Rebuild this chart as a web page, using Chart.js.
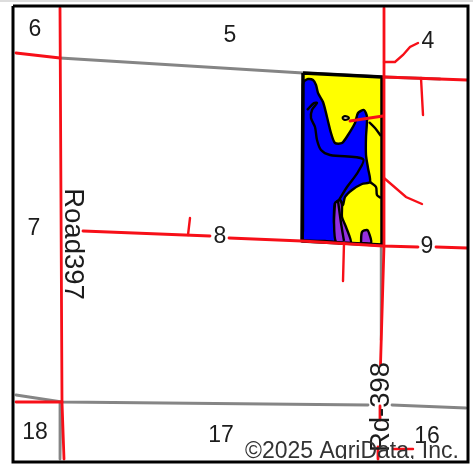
<!DOCTYPE html>
<html>
<head>
<meta charset="utf-8">
<title>Field map</title>
<script src="https://cdn.jsdelivr.net/npm/chart.js@4"></script>
<style>
html, body { margin: 0; padding: 0; background: #fff; }
canvas { display: block; }
</style>
</head>
<body>
<canvas id="map" width="473" height="466"></canvas>
<script>
// map geometry (x, y in image units)
var frame = [[13, 6], [468, 6], [468, 462], [13, 462]];
var topRule = [[0, 1], [473, 1]];

var grayRoadNorth = [[60, 58], [303, 73], [384, 77], [440, 79]];
var grayRoadSouth1 = [[16, 395], [62, 402], [368, 405]];
var grayRoadSouth2 = [[392, 405], [466, 408]];
var grayWestFoot = [[61, 402], [60, 459]];
var grayEastFoot = [[381.5, 246], [381, 340]];

var redWest = [[60, 8], [62, 402], [64, 459]];
var redNorthWest = [[16, 53], [60, 58]];
var redNorthEast = [[384, 77], [467, 80]];
var redSouthWest = [[16, 402], [62, 402]];
var redEast = [[384, 8], [384, 246], [380.5, 365]];
var redEastHyphen = [[380, 406], [380, 420]];
var redEastFoot = [[378, 447], [378, 459]];
var redMainWest = [[83, 231], [210, 236]];
var redMainMid = [[229, 238], [302, 241], [383, 246], [418, 247]];
var redMainEast = [[436, 247], [467, 248]];
var redTick8 = [[190, 218], [188, 235]];
var redTickSouth = [[344, 243], [343, 281]];
var redTickNE = [[421, 78], [423, 115]];
var redBranch4 = [[384, 62], [395, 62], [403, 55], [410, 47], [418, 43]];
var redBranchSE = [[384, 178], [406, 197], [422, 204]];
var redFieldStub = [[350, 121], [383, 116]];
var redFoot16 = [[393, 449], [413, 449]];

var fieldEdge = [[303, 73], [382, 77], [382, 245], [302, 241]];
var blueZone = [[304, 81], [308, 79], [313, 80], [316, 85], [318, 93], [323, 102], [327, 117], [331, 133], [335, 143],
    [342, 143], [348, 135], [355, 123], [358, 113], [364, 110], [367, 117], [366, 137], [366, 155], [368, 168], [370, 182],
    [362, 184], [352, 190], [345, 197], [343, 205], [340, 200], [335, 203], [334, 222], [336, 241], [325, 241], [310, 241], [303, 240],
    [303, 230], [303, 150], [303, 90], [303, 84]];
var purpleStrip = [[335, 203], [340, 200], [342, 205], [342, 217], [346, 227], [351, 243], [336, 242], [334, 222]];
var purpleNotch = [[361, 243], [362, 232], [367, 230], [369, 233], [371, 243]];
var pond = [[342, 118], [345, 116], [349, 118], [345, 120]];
var soilLine1 = [[307, 110], [314, 103], [317, 103], [312, 110], [311, 118], [315, 127], [317, 140], [321, 150], [330, 155], [363, 159], [358, 172], [347, 187], [339, 200]];
var soilLine2 = [[369, 122], [375, 128], [381, 136]];
var soilLine3 = [[370, 182], [376, 187], [377, 195], [381, 198]];
var soilLine4 = [[338, 201], [341, 223], [344, 241]];

var sectionLabels = ["6", "5", "4", "7", "8", "9", "18", "17", "16"];
var sectionX = [35, 230, 428, 34, 220, 427, 35, 221, 427];
var sectionY = [30, 36, 42, 229, 237, 247, 433, 436, 437];
var roadLabels = ["Road397", "Rd-398"];
var roadX = [73, 381];
var roadY = [244, 407];
var roadAngle = [90, -90];
var copyright = "©2025 AgriData, Inc.";

var RED = "#f70f18";
var GRAY = "#858585";

function pts(a) {
    return a.map(function (p) {
        return {x: p[0], y: p[1]};
    });
}
function road(a, color, w) {
    return {data: pts(a), showLine: true, fill: false, borderColor: color, borderWidth: w, pointRadius: 0, borderCapStyle: "round"};
}
function area(a, bg, line, w, tension) {
    // closed shape: repeat the first point so the outline comes back round
    return {data: pts(a.concat([a[0]])), showLine: true, fill: "shape", backgroundColor: bg, borderColor: line, borderWidth: w, pointRadius: 0, tension: tension, borderJoinStyle: "round"};
}
function curve(a) {
    return {data: pts(a), showLine: true, fill: false, borderColor: "#000", borderWidth: 2.4, pointRadius: 0, tension: 0.3};
}

// in paint order, reversed below because chart.js paints the first dataset last
var layers = [
    road(topRule, "#dddddd", 2),
    road(grayRoadNorth, GRAY, 2.8),
    road(grayRoadSouth1, GRAY, 2.8),
    road(grayRoadSouth2, GRAY, 2.8),
    road(grayWestFoot, GRAY, 2.8),
    road(grayEastFoot, GRAY, 2.4),
    area(fieldEdge, "#ffff00", "#000", 0, 0),
    area(blueZone, "#0000ff", "#000", 2.4, 0.25),
    area(purpleStrip, "#9430e0", "#000", 2.4, 0.2),
    area(purpleNotch, "#9430e0", "#000", 2.4, 0.3),
    curve(soilLine1),
    curve(soilLine2),
    curve(soilLine3),
    curve(soilLine4),
    area(pond, "#c8c8a0", "#000", 2, 0.4),
    area(fieldEdge, "rgba(0,0,0,0)", "#000", 3.5, 0),
    road(redWest, RED, 2.8),
    road(redNorthWest, RED, 2.8),
    road(redNorthEast, RED, 2.8),
    road(redSouthWest, RED, 2.8),
    road(redEast, RED, 2.8),
    road(redEastHyphen, RED, 2.8),
    road(redEastFoot, RED, 2.8),
    road(redMainWest, RED, 2.8),
    road(redMainMid, RED, 2.8),
    road(redMainEast, RED, 2.8),
    road(redTick8, RED, 2.4),
    road(redTickSouth, RED, 2.4),
    road(redTickNE, RED, 2.4),
    road(redBranch4, RED, 2.4),
    road(redBranchSE, RED, 2.4),
    road(redFieldStub, RED, 2.8),
    road(redFoot16, RED, 2.4),
    {data: pts(frame.concat([frame[0]])), showLine: true, fill: false, borderColor: "#000", borderWidth: 3, pointRadius: 0}
];

var mapText = {
    id: "mapText",
    afterDatasetsDraw: function (chart) {
        var ctx = chart.ctx;
        var sx = chart.scales.x;
        var sy = chart.scales.y;
        ctx.save();
        ctx.textAlign = "center";
        ctx.textBaseline = "middle";
        ctx.fillStyle = "#1c1c1c";
        ctx.font = "23px 'Liberation Sans'";
        sectionLabels.forEach(function (t, i) {
            ctx.fillText(t, sx.getPixelForValue(sectionX[i]), sy.getPixelForValue(sectionY[i]));
        });
        ctx.font = "27.5px 'Liberation Sans'";
        roadLabels.forEach(function (t, i) {
            ctx.save();
            ctx.translate(sx.getPixelForValue(roadX[i]), sy.getPixelForValue(roadY[i]));
            ctx.rotate(roadAngle[i] * Math.PI / 180);
            ctx.fillText(t, 0, 0);
            ctx.restore();
        });
        // the credit is cut off by the bottom of the frame
        ctx.beginPath();
        ctx.rect(15, 8, 451, 451);
        ctx.clip();
        ctx.font = "23px 'Liberation Sans'";
        ctx.textAlign = "left";
        ctx.textBaseline = "alphabetic";
        ctx.fillStyle = "#333";
        ctx.fillText(copyright, sx.getPixelForValue(245), sy.getPixelForValue(458));
        ctx.restore();
    }
};

new Chart(document.getElementById("map"), {
    type: "scatter",
    data: {datasets: layers.reverse()},
    options: {
        responsive: false,
        animation: false,
        layout: {padding: 0},
        plugins: {legend: {display: false}, tooltip: {enabled: false}},
        scales: {
            x: {type: "linear", min: 0, max: 473, display: false},
            y: {type: "linear", min: 0, max: 466, reverse: true, display: false}
        }
    },
    plugins: [mapText]
});
</script>
</body>
</html>
